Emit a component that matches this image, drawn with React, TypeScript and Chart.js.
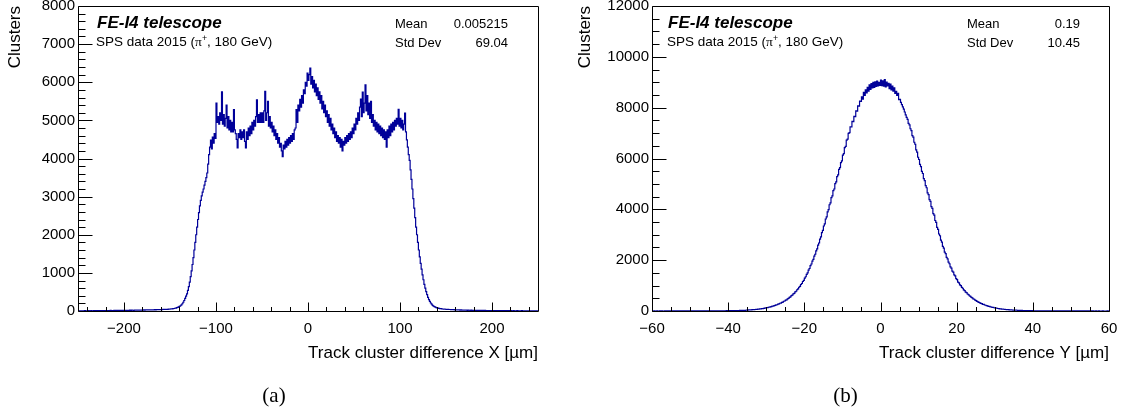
import React, { useEffect, useRef } from 'react';
import { Chart, registerables } from 'chart.js';

Chart.register(...registerables);

// ---------- data (a): Track cluster difference X, 1 µm bins from -250 ----------
const binsAStart = -250;
const binsAWidth = 1;
const countsA = [
  4, 6, 3, 5, 7, 4, 5, 8, 6, 5, 7, 9, 5, 6, 8, 7, 6, 9, 7, 8, 10, 7, 9, 8, 11,
  9, 10, 8, 12, 10, 11, 9, 13, 12, 10, 14, 11, 13, 12, 15, 13, 14, 16, 12, 15, 17, 14, 16, 18, 15,
  17, 19, 16, 18, 20, 17, 21, 19, 22, 20, 18, 23, 21, 24, 22, 20, 25, 23, 26, 24, 22, 27, 25, 28, 26,
  29, 27, 30, 28, 31, 33, 29, 32, 35, 31, 34, 36, 33, 38, 35, 40, 37, 42, 39, 44, 41, 46, 44, 49, 47,
  52, 55, 58, 62, 66, 72, 78, 86, 95, 106, 120, 138, 160, 190, 230, 275, 330, 390, 450, 540, 640, 760, 900, 1050, 1220,
  1400, 1600, 1800, 2000, 2200, 2400, 2580, 2760, 2900, 3020, 3120, 3200, 3300, 3400, 3500, 3620, 3850, 4100, 4300, 4480, 4250, 4560, 4400, 4650, 4530,
  5450, 4950, 5100, 4900, 5200, 5000, 5750, 4900, 5150, 4850, 5050, 5400, 4800, 5100, 4750, 5000, 4700, 4950, 4700, 5280, 4750, 4650, 4500, 4280, 4650,
  4550, 4750, 4500, 4700, 4550, 4750, 4450, 4280, 4700, 4500, 4800, 4600, 4850, 4650, 4950, 4750, 5000, 4850, 5100, 5540, 4950, 5150, 4950, 5200, 4950,
  5200, 4950, 5250, 5760, 5000, 5200, 5500, 4850, 5100, 4800, 4950, 4700, 4850, 4600, 4750, 4500, 4650, 4400, 4550, 4300, 4400, 4200, 4050, 4350, 4250,
  4450, 4300, 4500, 4350, 4550, 4400, 4600, 4450, 4650, 4500, 4750, 4800, 5280, 4950, 5400, 5250, 5550, 5350, 5650, 5450, 5800, 5700, 6000, 5900, 6240,
  6050, 6200, 6370, 5950, 6150, 5850, 6050, 5750, 5950, 5650, 5850, 5550, 5750, 5450, 5650, 5300, 5500, 5200, 5400, 5100, 5250, 4950, 5150, 4850, 5050,
  4750, 4900, 4650, 4800, 4550, 4700, 4450, 4600, 4400, 4550, 4300, 4500, 4200, 4450, 4350, 4550, 4400, 4600, 4450, 4650, 4500, 4700, 4550, 4800, 4650,
  4900, 4750, 5050, 4900, 5200, 5000, 5350, 5560, 5100, 5740, 5200, 5450, 5930, 5250, 5650, 5150, 5450, 5050, 5500, 4950, 5150, 4850, 5000, 4750, 4950,
  4700, 4900, 4650, 4850, 4600, 4800, 4550, 4750, 4500, 4700, 4300, 4750, 4550, 4850, 4600, 4900, 4700, 4950, 4750, 5000, 4850, 5050, 4900, 5290, 4850,
  5050, 4800, 5000, 4750, 4900, 5190, 4700, 4490, 4300, 4100, 3950, 3700, 3450, 3200, 2950, 2700, 2450, 2200, 2000, 1800, 1600, 1420, 1250, 1100, 950,
  820, 700, 600, 510, 430, 360, 300, 250, 210, 180, 150, 130, 115, 100, 90, 82, 75, 69, 64, 60, 56, 53, 50, 48, 46,
  45, 42, 43, 39, 40, 36, 38, 34, 35, 31, 33, 29, 31, 28, 29, 25, 27, 24, 25, 22, 24, 21, 22, 19, 21,
  20, 18, 21, 17, 19, 16, 18, 17, 15, 17, 14, 16, 15, 13, 15, 14, 12, 14, 13, 11, 13, 12, 10, 12, 11,
  10, 11, 9, 12, 10, 9, 11, 8, 10, 9, 7, 10, 8, 9, 7, 8, 9, 6, 8, 7, 9, 6, 7, 8, 6,
  7, 5, 8, 6, 7, 5, 6, 8, 5, 6, 4, 7, 5, 6, 4, 5, 6, 4, 5, 3, 6, 4, 5, 3, 4,
];

// ---------- data (b): Track cluster difference Y, 0.25 µm bins from -60 ----------
const binsBStart = -60;
const binsBWidth = 0.25;
const countsB = [
  0, 0, 1, 0, 0, 1, 0, 0, 1, 0, 1, 0, 0, 1, 1, 0, 1, 0, 1, 1,
  1, 1, 0, 2, 1, 1, 2, 1, 1, 2, 1, 2, 2, 1, 2, 1, 2, 3, 2, 2,
  2, 3, 2, 3, 2, 3, 3, 2, 4, 3, 3, 4, 3, 4, 3, 4, 5, 4, 4, 5,
  4, 5, 5, 6, 5, 6, 6, 7, 6, 7, 8, 7, 8, 9, 8, 9, 10, 9, 11, 10,
  11, 12, 13, 12, 14, 15, 14, 16, 17, 18, 17, 20, 21, 22, 23, 25, 26, 28, 30, 32,
  37, 41, 42, 46, 47, 52, 53, 58, 59, 65, 66, 73, 75, 82, 85, 93, 97, 106, 111, 121,
  128, 133, 147, 151, 166, 172, 190, 195, 214, 220, 242, 246, 270, 278, 305, 312, 341, 350, 384, 393,
  425, 440, 478, 495, 537, 556, 602, 621, 670, 694, 750, 778, 836, 868, 934, 970, 1042, 1082, 1160, 1205,
  1292, 1348, 1440, 1502, 1605, 1672, 1782, 1850, 1962, 2035, 2160, 2232, 2368, 2446, 2590, 2676, 2830, 2918, 3080, 3172,
  3345, 3430, 3620, 3705, 3900, 3985, 4180, 4255, 4460, 4530, 4740, 4800, 5010, 5080, 5290, 5355, 5570, 5640, 5840, 5905,
  6130, 6190, 6430, 6480, 6720, 6760, 6990, 7020, 7250, 7240, 7460, 7450, 7660, 7650, 7870, 7860, 8070, 8060, 8260, 8250,
  8430, 8340, 8600, 8480, 8700, 8580, 8800, 8650, 8900, 8720, 8950, 8780, 9000, 8800, 9020, 8840, 9050, 8860, 9000, 8880,
  9080, 8870, 9060, 8850, 9100, 8820, 9010, 8860, 8960, 8750, 8930, 8700, 8850, 8650, 8780, 8560, 8640, 8480, 8560, 8320,
  8330, 8210, 8120, 8030, 7940, 7830, 7720, 7620, 7540, 7380, 7320, 7170, 7100, 6900, 6840, 6640, 6560, 6340, 6250, 6050,
  5960, 5770, 5680, 5490, 5410, 5210, 5130, 4930, 4850, 4650, 4580, 4380, 4310, 4110, 4040, 3830, 3770, 3560, 3490, 3290,
  3210, 3030, 2960, 2790, 2710, 2540, 2470, 2320, 2260, 2110, 2050, 1920, 1860, 1740, 1690, 1570, 1530, 1420, 1380, 1270,
  1235, 1140, 1110, 1030, 1000, 930, 895, 830, 805, 745, 720, 668, 645, 600, 578, 535, 518, 478, 462, 427,
  410, 378, 362, 338, 322, 300, 287, 264, 257, 236, 227, 209, 202, 185, 179, 164, 158, 146, 139, 128,
  122, 113, 108, 98, 96, 87, 84, 77, 75, 68, 66, 60, 58, 53, 51, 46, 45, 41, 40, 36,
  36, 33, 31, 29, 28, 26, 24, 22, 22, 20, 19, 17, 17, 15, 15, 13, 13, 12, 11, 11,
  10, 10, 9, 8, 8, 7, 8, 7, 6, 7, 6, 5, 6, 5, 5, 4, 5, 4, 4, 4,
  4, 3, 4, 3, 3, 3, 2, 3, 3, 2, 3, 2, 2, 2, 3, 2, 2, 1, 2, 2,
  2, 1, 2, 1, 1, 2, 1, 1, 1, 2, 1, 1, 1, 0, 1, 1, 1, 0, 1, 1,
  0, 1, 0, 1, 0, 0, 1, 0, 0, 1, 0, 0, 0, 1, 0, 0, 0, 0, 1, 0,
];

// ---------- tick labels ----------
const xTicksA = [-200, -100, 0, 100, 200];
const yTicksA = [0, 1000, 2000, 3000, 4000, 5000, 6000, 7000, 8000];
const xTicksB = [-60, -40, -20, 0, 20, 40, 60];
const yTicksB = [0, 2000, 4000, 6000, 8000, 10000, 12000];

// ---------- texts ----------
const titleLabel = 'FE-I4 telescope';
const statsA = [
  ['Mean', '0.005215'],
  ['Std Dev', '69.04'],
];
const statsB = [
  ['Mean', '0.19'],
  ['Std Dev', '10.45'],
];
const xTitleA = 'Track cluster difference X [\u00b5m]';
const xTitleB = 'Track cluster difference Y [\u00b5m]';
const yTitle = 'Clusters';

const SANS = '"Liberation Sans", Arial, Helvetica, sans-serif';
const SERIF = '"Liberation Serif", "Times New Roman", Times, serif';
const LINE = '#000099';

const fmt = (v: number) => (v < 0 ? '\u2212' + Math.abs(v) : String(v));

const rootFrame = {
  id: 'rootFrame',
  afterDraw(chart: any, _args: any, opts: any) {
    const { ctx, chartArea: a, scales } = chart;
    const x = scales.x;
    const y = scales.y;
    ctx.save();
    ctx.strokeStyle = '#000';
    ctx.lineWidth = 1;
    const L = Math.round(a.left) + 0.5;
    const T = Math.round(a.top) + 0.5;
    const R = Math.round(a.right) + 0.5;
    const B = Math.round(a.bottom) + 0.5;
    ctx.beginPath();
    ctx.moveTo(L, T);
    ctx.lineTo(R, T);
    ctx.lineTo(R, B);
    ctx.lineTo(L, B);
    ctx.closePath();
    ctx.stroke();
    ctx.beginPath();
    const xs = Math.ceil(x.min / opts.xMinor - 1e-9);
    const xe = Math.floor(x.max / opts.xMinor + 1e-9);
    for (let k = xs; k <= xe; k++) {
      const v = k * opts.xMinor;
      const major = Math.abs(v / opts.xMajor - Math.round(v / opts.xMajor)) < 1e-6;
      const px = Math.round(x.getPixelForValue(v)) + 0.5;
      ctx.moveTo(px, B);
      ctx.lineTo(px, B - (major ? opts.xLen : opts.xLen / 2));
    }
    const ys = Math.ceil(y.min / opts.yMinor - 1e-9);
    const ye = Math.floor(y.max / opts.yMinor + 1e-9);
    for (let k = ys; k <= ye; k++) {
      const v = k * opts.yMinor;
      const major = Math.abs(v / opts.yMajor - Math.round(v / opts.yMajor)) < 1e-6;
      const py = Math.round(y.getPixelForValue(v)) + 0.5;
      ctx.moveTo(L, py);
      ctx.lineTo(L + (major ? opts.yLen : opts.yLen / 2), py);
    }
    ctx.stroke();
    ctx.restore();
  },
};

type PanelProps = {
  counts: number[];
  start: number;
  width: number;
  xMin: number;
  xMax: number;
  yMax: number;
  xTicks: number[];
  yTicks: number[];
  xTitle: string;
  yAxisWidth: number;
  padRight: number;
  yTitlePad: number;
  frame: any;
};

function Panel(p: PanelProps) {
  const ref = useRef<HTMLCanvasElement | null>(null);
  useEffect(() => {
    if (!ref.current) return;
    const pts = p.counts.map((c, i) => ({ x: p.start + i * p.width, y: c }));
    pts.push({ x: p.start + p.counts.length * p.width, y: p.counts[p.counts.length - 1] });
    const chart = new Chart(ref.current, {
      type: 'line',
      data: {
        datasets: [
          {
            data: pts,
            borderColor: LINE,
            borderWidth: 1.2,
            pointRadius: 0,
            stepped: true,
            fill: false,
            tension: 0,
          },
        ],
      },
      options: {
        animation: false,
        responsive: false,
        maintainAspectRatio: false,
        events: [],
        layout: { padding: { left: 0, right: p.padRight, top: 6, bottom: 0 } },
        plugins: {
          legend: { display: false },
          tooltip: { enabled: false },
          rootFrame: p.frame,
        } as any,
        scales: {
          x: {
            type: 'linear',
            min: p.xMin,
            max: p.xMax,
            grid: { display: false, drawTicks: false },
            border: { display: false },
            afterBuildTicks: (axis: any) => {
              axis.ticks = p.xTicks.map((v) => ({ value: v }));
            },
            afterFit: (s: any) => {
              s.height = 103;
              s.paddingLeft = 0;
              s.paddingRight = 0;
            },
            ticks: {
              autoSkip: false,
              maxRotation: 0,
              padding: 9,
              color: '#000',
              font: { family: SANS, size: 15 },
              callback: (v: any) => fmt(Number(v)),
            },
            title: {
              display: true,
              text: p.xTitle,
              align: 'end',
              color: '#000',
              font: { family: SANS, size: 17 },
              padding: { top: 0, bottom: 50.8 },
            },
          },
          y: {
            type: 'linear',
            min: 0,
            max: p.yMax,
            grid: { display: false, drawTicks: false },
            border: { display: false },
            afterBuildTicks: (axis: any) => {
              axis.ticks = p.yTicks.map((v) => ({ value: v }));
            },
            afterFit: (s: any) => {
              s.width = p.yAxisWidth;
              s.paddingTop = 0;
              s.paddingBottom = 0;
            },
            ticks: {
              autoSkip: false,
              padding: 3,
              color: '#000',
              font: { family: SANS, size: 15 },
              callback: (v: any) => fmt(Number(v)),
            },
            title: {
              display: true,
              text: yTitle,
              align: 'end',
              color: '#000',
              font: { family: SANS, size: 17 },
              padding: { top: p.yTitlePad, bottom: 0 },
            },
          },
        },
      },
      plugins: [rootFrame],
    } as any);
    return () => chart.destroy();
  }, []);
  return <canvas ref={ref} width={562} height={414} style={{ display: 'block', width: 562, height: 414 }} />;
}

function Txt(props: { left: number; top: number; size: number; children: any; style?: any }) {
  return (
    <div
      style={{
        position: 'absolute',
        left: props.left,
        top: props.top,
        fontSize: props.size,
        lineHeight: 1,
        fontFamily: SANS,
        whiteSpace: 'nowrap',
        color: '#000',
        ...(props.style || {}),
      }}
    >
      {props.children}
    </div>
  );
}

function DataLabel() {
  return (
    <>
      SPS data 2015 (<span style={{ fontFamily: SERIF }}>π</span>
      <span style={{ fontSize: '0.65em', position: 'relative', top: '-0.55em' }}>+</span>, 180 GeV)
    </>
  );
}

function Annotations(props: { ox: number; stats: string[][]; statsLeft: number; statsRight: number }) {
  const { ox } = props;
  return (
    <>
      <Txt left={ox + 97} top={13.6} size={17} style={{ fontWeight: 'bold', fontStyle: 'italic' }}>
        {titleLabel}
      </Txt>
      <Txt left={ox + 96} top={35.3} size={13.5}>
        <DataLabel />
      </Txt>
      {props.stats.map((s, i) => (
        <React.Fragment key={s[0]}>
          <Txt left={props.statsLeft} top={16.7 + i * 19} size={13}>
            {s[0]}
          </Txt>
          <Txt left={props.statsRight - 120} top={16.7 + i * 19} size={13} style={{ width: 120, textAlign: 'right' }}>
            {s[1]}
          </Txt>
        </React.Fragment>
      ))}
    </>
  );
}

export default function App() {
  return (
    <div
      style={{
        position: 'absolute',
        left: 0,
        top: 0,
        width: 1124,
        height: 414,
        background: '#fff',
        overflow: 'hidden',
      }}
    >
      <div style={{ position: 'absolute', left: 0, top: 0 }}>
        <Panel
          counts={countsA}
          start={binsAStart}
          width={binsAWidth}
          xMin={-250}
          xMax={250}
          yMax={8000}
          xTicks={xTicksA}
          yTicks={yTicksA}
          xTitle={xTitleA}
          yAxisWidth={78}
          padRight={24}
          yTitlePad={4.8}
          frame={{ xMinor: 20, xMajor: 100, yMinor: 200, yMajor: 1000, xLen: 9, yLen: 14 }}
        />
      </div>
      <div style={{ position: 'absolute', left: 562, top: 0 }}>
        <Panel
          counts={countsB}
          start={binsBStart}
          width={binsBWidth}
          xMin={-60}
          xMax={60}
          yMax={12000}
          xTicks={xTicksB}
          yTicks={yTicksB}
          xTitle={xTitleB}
          yAxisWidth={90}
          padRight={15}
          yTitlePad={13.3}
          frame={{ xMinor: 5, xMajor: 20, yMinor: 500, yMajor: 2000, xLen: 9, yLen: 14 }}
        />
      </div>
      <Annotations ox={0} stats={statsA} statsLeft={395} statsRight={508} />
      <Annotations ox={571} stats={statsB} statsLeft={967} statsRight={1080} />
      <Txt left={224} top={385.4} size={21} style={{ fontFamily: SERIF, width: 100, textAlign: 'center' }}>
        (a)
      </Txt>
      <Txt left={795.5} top={385.4} size={21} style={{ fontFamily: SERIF, width: 100, textAlign: 'center' }}>
        (b)
      </Txt>
    </div>
  );
}
